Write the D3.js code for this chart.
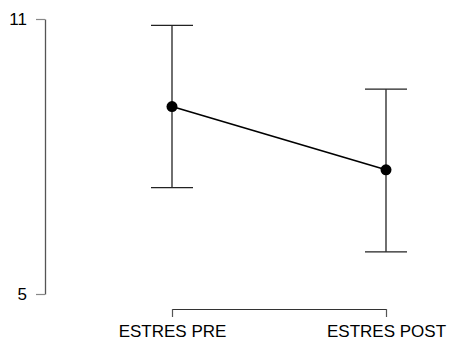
<!DOCTYPE html>
<html>
<head>
<meta charset="utf-8">
<script src="https://cdn.jsdelivr.net/npm/d3@7"></script>
<style>
  html, body { margin: 0; padding: 0; background: #fff; }
  svg { display: block; }
  text { font-family: "Liberation Sans", Arial, sans-serif; }
</style>
</head>
<body>
<svg id="chart" width="450" height="342"></svg>
<script>
// Group labels, means and error-bar limits
const categories = ["ESTRES PRE", "ESTRES POST"];
const means = [9.09, 7.71];
const lower = [7.32, 5.92];
const upper = [10.86, 9.47];
const yTicks = [5, 11];

const svg = d3.select("#chart");

const x = d3.scalePoint().domain(categories).range([172, 386]);
const y = d3.scaleLinear().domain([5, 11]).range([294, 19]);

// Y axis
const yAxis = svg.append("g")
  .attr("transform", "translate(45,0)")
  .call(d3.axisLeft(y).tickValues(yTicks).tickFormat(d3.format("d"))
    .tickSize(9).tickSizeOuter(0).tickPadding(9));
yAxis.select(".domain").attr("stroke", "#555").attr("stroke-width", 1.3);
yAxis.selectAll(".tick line").attr("stroke", "#888").attr("stroke-width", 1.2);
yAxis.selectAll(".tick text").attr("fill", "#000").style("font-size", "17px")
  .style("font-family", "'Liberation Sans', Arial, sans-serif");

// X axis bracket
const xAxis = svg.append("g")
  .attr("transform", "translate(0,309)")
  .call(d3.axisBottom(x).tickSize(8).tickSizeOuter(0).tickPadding(8));
xAxis.select(".domain").attr("stroke", "#333").attr("stroke-width", 1.2);
xAxis.selectAll(".tick line").attr("stroke", "#555").attr("stroke-width", 1.2);
xAxis.selectAll(".tick text").attr("fill", "#000").style("font-size", "17px")
  .style("font-family", "'Liberation Sans', Arial, sans-serif");

const data = categories.map((c, i) => ({ c, m: means[i], lo: lower[i], hi: upper[i] }));
const capHalf = 21;

// Error bars
const eb = svg.append("g").attr("stroke", "#222").attr("stroke-width", 1.3);
eb.selectAll(".v").data(data).join("line")
  .attr("x1", d => x(d.c)).attr("x2", d => x(d.c))
  .attr("y1", d => y(d.lo)).attr("y2", d => y(d.hi));
eb.selectAll(".top").data(data).join("line")
  .attr("x1", d => x(d.c) - capHalf).attr("x2", d => x(d.c) + capHalf)
  .attr("y1", d => y(d.hi)).attr("y2", d => y(d.hi));
eb.selectAll(".bot").data(data).join("line")
  .attr("x1", d => x(d.c) - capHalf).attr("x2", d => x(d.c) + capHalf)
  .attr("y1", d => y(d.lo)).attr("y2", d => y(d.lo));

// Line connecting the means
svg.append("path")
  .datum(data)
  .attr("fill", "none").attr("stroke", "#000").attr("stroke-width", 1.7)
  .attr("d", d3.line().x(d => x(d.c)).y(d => y(d.m)));

// Mean points
svg.selectAll(".pt").data(data).join("circle")
  .attr("cx", d => x(d.c)).attr("cy", d => y(d.m)).attr("r", 5.5)
  .attr("fill", "#000");
</script>
</body>
</html>
